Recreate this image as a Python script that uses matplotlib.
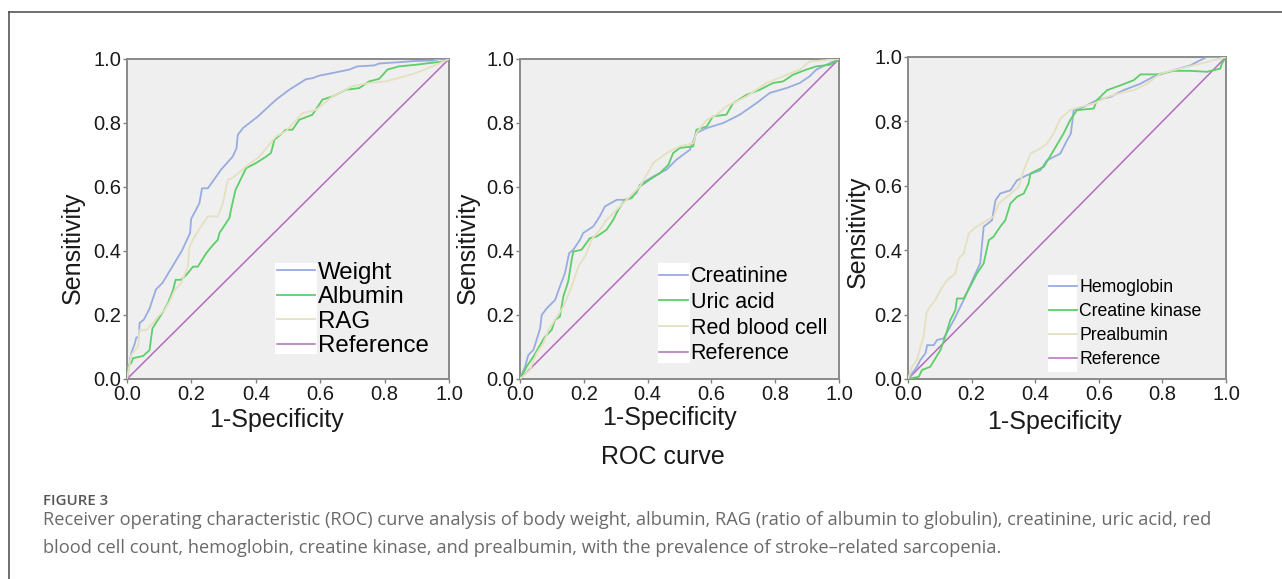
import matplotlib.pyplot as plt
from matplotlib.lines import Line2D
from matplotlib.patches import Rectangle

# ---- data (1-specificity, sensitivity) ----
weight_x = [0, 0.013, 0.024, 0.029, 0.037, 0.039, 0.052, 0.07, 0.09, 0.11, 0.14, 0.17, 0.196, 0.199,
            0.215, 0.225, 0.233, 0.251, 0.266, 0.292, 0.328, 0.34, 0.344, 0.36, 0.406, 0.463, 0.504,
            0.556, 0.576, 0.597, 0.638, 0.69, 0.716, 0.768, 0.783, 0.845, 0.897, 0.948, 0.969, 1]
weight_y = [0, 0.08, 0.11, 0.13, 0.13, 0.175, 0.185, 0.22, 0.28, 0.30, 0.35, 0.40, 0.456, 0.50,
            0.53, 0.55, 0.596, 0.596, 0.617, 0.654, 0.695, 0.72, 0.763, 0.784, 0.82, 0.873, 0.904,
            0.937, 0.94, 0.948, 0.956, 0.967, 0.977, 0.98, 0.986, 0.99, 0.994, 0.995, 1.0, 1]

albumin_x = [0, 0.003, 0.013, 0.019, 0.05, 0.07, 0.079, 0.096, 0.112, 0.127, 0.143, 0.151, 0.168,
             0.184, 0.205, 0.22, 0.246, 0.267, 0.282, 0.287, 0.318, 0.323, 0.337, 0.37, 0.401, 0.432,
             0.447, 0.458, 0.483, 0.493, 0.514, 0.535, 0.576, 0.607, 0.638, 0.68, 0.721, 0.752,
             0.783, 0.809, 0.845, 0.897, 0.938, 0.979, 1]
albumin_y = [0, 0.04, 0.05, 0.065, 0.072, 0.09, 0.158, 0.185, 0.21, 0.237, 0.278, 0.31, 0.31,
             0.325, 0.351, 0.351, 0.393, 0.419, 0.435, 0.456, 0.503, 0.529, 0.591, 0.659, 0.675, 0.695,
             0.706, 0.748, 0.769, 0.779, 0.779, 0.81, 0.826, 0.873, 0.883, 0.904, 0.909, 0.93,
             0.938, 0.967, 0.977, 0.982, 0.987, 0.992, 1]

rag_x = [0, 0.013, 0.024, 0.034, 0.039, 0.06, 0.08, 0.096, 0.117, 0.132, 0.148, 0.168, 0.189, 0.194,
         0.21, 0.23, 0.251, 0.282, 0.298, 0.313, 0.328, 0.37, 0.411, 0.463, 0.493, 0.545, 0.587,
         0.638, 0.7, 0.752, 0.804, 0.845, 0.897, 0.948, 1]
rag_y = [0, 0.075, 0.09, 0.10, 0.153, 0.153, 0.174, 0.195, 0.216, 0.242, 0.278, 0.299, 0.351, 0.414,
         0.445, 0.477, 0.508, 0.508, 0.55, 0.623, 0.628, 0.664, 0.695, 0.758, 0.774, 0.831, 0.841,
         0.883, 0.915, 0.925, 0.93, 0.941, 0.956, 0.977, 1]

creat_x = [0, 0.016, 0.026, 0.042, 0.052, 0.063, 0.068, 0.084, 0.11, 0.125, 0.141, 0.154, 0.167,
           0.188, 0.198, 0.23, 0.25, 0.266, 0.303, 0.334, 0.365, 0.376, 0.418, 0.459, 0.49, 0.532,
           0.553, 0.585, 0.637, 0.689, 0.741, 0.783, 0.835, 0.877, 0.908, 0.929, 0.96, 1]
creat_y = [0, 0.039, 0.075, 0.091, 0.122, 0.158, 0.20, 0.221, 0.247, 0.289, 0.331, 0.393, 0.404,
           0.435, 0.456, 0.477, 0.508, 0.539, 0.56, 0.56, 0.581, 0.607, 0.633, 0.654, 0.685, 0.716,
           0.769, 0.784, 0.8, 0.826, 0.862, 0.894, 0.909, 0.925, 0.946, 0.967, 0.982, 1]

uric_x = [0, 0.021, 0.042, 0.063, 0.078, 0.099, 0.11, 0.125, 0.136, 0.151, 0.162, 0.167, 0.193,
          0.219, 0.24, 0.271, 0.292, 0.308, 0.329, 0.35, 0.376, 0.407, 0.438, 0.465, 0.48, 0.501,
          0.543, 0.553, 0.585, 0.605, 0.647, 0.668, 0.71, 0.752, 0.793, 0.825, 0.856, 0.898,
          0.929, 0.971, 1]
uric_y = [0, 0.039, 0.07, 0.106, 0.132, 0.153, 0.185, 0.195, 0.258, 0.304, 0.372, 0.398, 0.404,
          0.44, 0.445, 0.466, 0.497, 0.529, 0.56, 0.565, 0.602, 0.623, 0.643, 0.669, 0.706, 0.722,
          0.727, 0.779, 0.789, 0.821, 0.826, 0.862, 0.888, 0.904, 0.925, 0.93, 0.951, 0.967,
          0.977, 0.982, 1]

rbc_x = [0, 0.031, 0.052, 0.073, 0.089, 0.11, 0.136, 0.162, 0.183, 0.209, 0.224, 0.25, 0.271, 0.303,
         0.344, 0.376, 0.418, 0.459, 0.501, 0.543, 0.553, 0.585, 0.616, 0.647, 0.71, 0.772, 0.825,
         0.877, 0.908, 1]
rbc_y = [0, 0.028, 0.08, 0.112, 0.153, 0.185, 0.226, 0.289, 0.351, 0.393, 0.435, 0.466, 0.497, 0.529,
         0.57, 0.602, 0.675, 0.706, 0.727, 0.737, 0.769, 0.81, 0.826, 0.852, 0.883, 0.925, 0.946,
         0.967, 0.992, 1]

hemo_x = [0, 0.028, 0.039, 0.055, 0.06, 0.081, 0.091, 0.112, 0.144, 0.175, 0.207, 0.227, 0.238,
          0.264, 0.275, 0.29, 0.322, 0.343, 0.374, 0.416, 0.437, 0.479, 0.5, 0.512, 0.521, 0.552,
          0.594, 0.636, 0.678, 0.731, 0.77, 0.835, 0.888, 0.919, 0.94, 1]
hemo_y = [0, 0.038, 0.059, 0.08, 0.105, 0.105, 0.121, 0.126, 0.183, 0.245, 0.317, 0.359, 0.473,
          0.493, 0.555, 0.576, 0.586, 0.617, 0.633, 0.648, 0.679, 0.7, 0.741, 0.762, 0.835, 0.845,
          0.866, 0.876, 0.897, 0.917, 0.938, 0.959, 0.974, 0.99, 1.0, 1]

ck_x = [0, 0.034, 0.044, 0.07, 0.086, 0.102, 0.117, 0.133, 0.149, 0.154, 0.175, 0.201, 0.217, 0.238,
        0.254, 0.269, 0.29, 0.306, 0.322, 0.343, 0.364, 0.379, 0.385, 0.427, 0.458, 0.489, 0.51,
        0.531, 0.584, 0.594, 0.626, 0.668, 0.71, 0.731, 0.783, 0.835, 0.888, 0.94, 0.982, 0.987, 1]
ck_y = [0, 0.007, 0.028, 0.038, 0.064, 0.09, 0.131, 0.183, 0.214, 0.25, 0.25, 0.297, 0.328, 0.359,
        0.431, 0.442, 0.473, 0.493, 0.545, 0.566, 0.576, 0.607, 0.638, 0.659, 0.71, 0.762, 0.804,
        0.835, 0.84, 0.866, 0.897, 0.912, 0.928, 0.946, 0.946, 0.957, 0.957, 0.954, 0.964, 0.979, 1]

prealb_x = [0, 0.013, 0.028, 0.039, 0.049, 0.058, 0.065, 0.086, 0.102, 0.123, 0.149, 0.159, 0.175,
            0.191, 0.207, 0.233, 0.248, 0.269, 0.285, 0.312, 0.348, 0.364, 0.385, 0.416, 0.437,
            0.458, 0.479, 0.51, 0.542, 0.584, 0.626, 0.678, 0.71, 0.752, 0.793, 0.835, 0.877,
            0.919, 0.961, 1]
prealb_y = [0, 0.038, 0.059, 0.1, 0.131, 0.204, 0.219, 0.245, 0.276, 0.307, 0.328, 0.374, 0.39,
            0.452, 0.467, 0.483, 0.493, 0.504, 0.545, 0.566, 0.597, 0.648, 0.7, 0.716, 0.731,
            0.762, 0.809, 0.835, 0.845, 0.855, 0.876, 0.891, 0.897, 0.917, 0.948, 0.959, 0.969,
            0.979, 0.99, 1]

ref_x = [0, 1]
ref_y = [0, 1]

labels_1 = ["Weight", "Albumin", "RAG", "Reference"]
labels_2 = ["Creatinine", "Uric acid", "Red blood cell", "Reference"]
labels_3 = ["Hemoglobin", "Creatine kinase", "Prealbumin", "Reference"]
ticks = [0.0, 0.2, 0.4, 0.6, 0.8, 1.0]
tick_labels = ["0.0", "0.2", "0.4", "0.6", "0.8", "1.0"]

caption = ("Receiver operating characteristic (ROC) curve analysis of body weight, albumin, RAG "
           "(ratio of albumin to globulin), creatinine, uric acid, red\n"
           "blood cell count, hemoglobin, creatine kinase, and prealbumin, with the prevalence "
           "of stroke\u2013related sarcopenia.")

colors = ["#98ace0", "#5ccf68", "#e4e0c0", "#b46cbe"]

plt.rcParams["font.family"] = ["Liberation Sans", "DejaVu Sans"]

W, H = 1282, 579
fig = plt.figure(figsize=(W / 100, H / 100), dpi=100)
fig.patch.set_facecolor("white")


def px_axes(x0, x1, y_top, y_bot):
    return fig.add_axes([x0 / W, 1 - y_bot / H, (x1 - x0) / W, (y_bot - y_top) / H])


panels = [
    dict(rect=(127, 449, 59, 379), series=[(weight_x, weight_y), (albumin_x, albumin_y), (rag_x, rag_y)],
         labels=labels_1, fs=17.3, hl=1.58, spacing=0.1, anchor=(0.466, 0.366),
         box=(0.46, 0.078, 0.13, 0.284), xlab=(0.463, -0.128), ylab=(-0.168, 0.41)),
    dict(rect=(520, 839, 59, 379), series=[(creat_x, creat_y), (uric_x, uric_y), (rbc_x, rbc_y)],
         labels=labels_2, fs=15.5, hl=1.35, spacing=0.22, anchor=(0.436, 0.353),
         box=(0.433, 0.05, 0.10, 0.3125), xlab=(0.467, -0.122), ylab=(-0.163, 0.41)),
    dict(rect=(908, 1226, 57, 379), series=[(hemo_x, hemo_y), (ck_x, ck_y), (prealb_x, prealb_y)],
         labels=labels_3, fs=12.7, hl=1.6, spacing=0.39, anchor=(0.443, 0.31),
         box=(0.44, 0.022, 0.091, 0.30), xlab=(0.459, -0.134), ylab=(-0.157, 0.457)),
]

for p in panels:
    ax = px_axes(*p["rect"])
    ax.set_facecolor("#efefef")
    ax.add_patch(Rectangle((p["box"][0], p["box"][1]), p["box"][2], p["box"][3],
                           transform=ax.transAxes, facecolor="white", edgecolor="none", zorder=1))
    handles = []
    for (xs, ys), c in zip(p["series"], colors[:3]):
        h, = ax.plot(xs, ys, color=c, lw=1.3, zorder=3)
        handles.append(h)
    h, = ax.plot(ref_x, ref_y, color=colors[3], lw=1.1, zorder=2)
    handles.append(h)

    ax.set_xlim(0, 1)
    ax.set_ylim(0, 1)
    ax.set_xticks(ticks)
    ax.set_yticks(ticks)
    ax.set_xticklabels(tick_labels)
    ax.set_yticklabels(tick_labels)
    ax.tick_params(length=3, width=1, color="#808080", labelsize=14.5, labelcolor="#1a1a1a", pad=1)
    for s in ax.spines.values():
        s.set_color("#8a8a8a")
        s.set_linewidth(1.4)

    ax.set_xlabel("1-Specificity", fontsize=18, color="#1a1a1a")
    ax.set_ylabel("Sensitivity", fontsize=18, color="#1a1a1a")
    ax.xaxis.set_label_coords(*p["xlab"])
    ax.yaxis.set_label_coords(*p["ylab"])
    ax.xaxis.label.set_va("center")
    ax.yaxis.label.set_va("center")

    ax.legend(handles, p["labels"], loc="upper left", bbox_to_anchor=p["anchor"], frameon=False,
              fontsize=p["fs"], handlelength=p["hl"], handletextpad=0.12, borderpad=0,
              borderaxespad=0, labelspacing=p["spacing"])

fig.text(663 / W, 1 - 457 / H, "ROC curve", fontsize=18, ha="center", va="center", color="#1a1a1a")

# page frame lines (top and left)
fig.add_artist(Line2D([9 / W, 1], [1 - 12 / H, 1 - 12 / H], color="#555555", lw=1.2))
fig.add_artist(Line2D([9 / W, 9 / W], [0, 1 - 12 / H], color="#555555", lw=1.2))

fig.text(43 / W, 1 - 501 / H, "FIGURE 3", fontsize=10.8, family="Open Sans", weight="semibold",
         color="#555555", va="center")
fig.text(43 / W, 1 - 534 / H, caption, fontsize=13.15, family="Open Sans", color="#6a6a6a",
         va="center", linespacing=1.68)

fig.savefig("out.png", dpi=100)
